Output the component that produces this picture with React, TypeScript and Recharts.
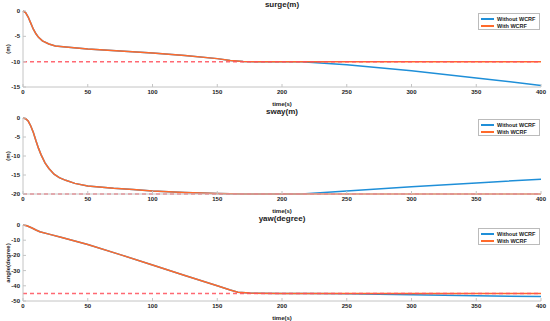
import { LineChart, Line, XAxis, YAxis } from "recharts";

// time axis ticks
const timeTicks = [0, 50, 100, 150, 200, 250, 300, 350, 400];

// surge (m)
const surgeT = [0, 2, 4, 6, 8, 10, 12, 15, 20, 25, 33, 50, 75, 100, 125, 150, 160, 170, 180, 215, 400];
const surgeWith = [0, -0.3, -1.2, -2.4, -3.6, -4.5, -5.2, -5.9, -6.5, -6.9, -7.1, -7.5, -7.9, -8.3, -8.8, -9.4, -9.75, -9.95, -10, -10, -10];
const surgeDriftT = [250, 300, 350, 400];
const surgeDrift = [-10.6, -11.8, -13.2, -14.7];
const surgeTarget = -10;
const surgeTicks = [0, -5, -10, -15];

// sway (m)
const swayT = [0, 2, 4, 6, 8, 10, 12, 14, 17, 20, 24, 28, 33, 40, 50, 70, 85, 100, 125, 150, 170, 215, 400];
const swayWith = [0, -0.2, -0.8, -2.1, -3.8, -6, -8, -9.7, -11.8, -13.3, -14.8, -15.7, -16.4, -17.2, -17.9, -18.5, -18.8, -19.2, -19.6, -19.9, -20, -20, -20];
const swayDriftT = [250, 300, 350, 400];
const swayDrift = [-19.2, -18.1, -17.1, -16.1];
const swayTarget = -20;
const swayTicks = [0, -5, -10, -15, -20];

// yaw (degree)
const yawT = [0, 3, 7, 10, 13, 20, 30, 50, 75, 100, 125, 150, 160, 166, 175, 200, 220, 400];
const yawWith = [0, -0.5, -2, -3.3, -4.4, -6, -8.2, -12.8, -19.5, -26.3, -33.2, -40, -42.8, -44.2, -44.8, -45, -45, -45];
const yawDriftT = [250, 300, 350, 400];
const yawDrift = [-45.3, -45.9, -46.5, -47.1];
const yawTarget = -45;
const yawTicks = [0, -10, -20, -30, -40, -50];

const BLUE = "#1f8fd8";
const ORANGE = "#ff6a2b";
const REF = "#ff4f5a";
const BOX = "#c4c4c4";
const FONT = "'Liberation Sans', Arial, sans-serif";

const BottomTick = ({ x, y, payload }: any) => (
  <g>
    <line x1={x} x2={x} y1={y} y2={y - 3} stroke={BOX} />
    <text x={x} y={y + 7} textAnchor="middle" fontSize={6} fontWeight="bold" fill="#222" fontFamily={FONT}>
      {payload.value}
    </text>
  </g>
);
const TopTick = ({ x, y }: any) => <line x1={x} x2={x} y1={y} y2={y + 3} stroke={BOX} />;
const LeftTick = ({ x, y, payload }: any) => (
  <g>
    <line x1={x} x2={x + 3} y1={y} y2={y} stroke={BOX} />
    <text x={x - 3} y={y + 2} textAnchor="end" fontSize={6} fontWeight="bold" fill="#222" fontFamily={FONT}>
      {payload.value}
    </text>
  </g>
);
const RightTick = ({ x, y }: any) => <line x1={x} x2={x - 3} y1={y} y2={y} stroke={BOX} />;

function Panel({ title, yLabel, t, withV, driftT, drift, target, ticks, legendTop }: any) {
  const withData = t.map((tt: number, i: number) => ({ t: tt, v: withV[i] }));
  const split = t.findIndex((tt: number) => tt >= 215);
  const withoutData = withData.slice(0, split + 1).concat(driftT.map((tt: number, i: number) => ({ t: tt, v: drift[i] })));
  const refData = [{ t: 0, v: target }, { t: 400, v: target }];
  const domain = [ticks[ticks.length - 1], 0];
  return (
    <div style={{ position: "relative", width: 550, height: 107 }}>
      <div style={{ position: "absolute", left: 23, width: 518, top: 0, textAlign: "center", fontSize: 8, fontWeight: "bold", fontFamily: FONT, color: "#222" }}>
        {title}
      </div>
      <LineChart width={550} height={107} data={withData} margin={{ top: 11, right: 9, bottom: 0, left: 0 }}>
        <XAxis dataKey="t" type="number" domain={[0, 400]} ticks={timeTicks} height={20} tickSize={0} tickMargin={0}
          tickLine={false} stroke={BOX} tick={<BottomTick />} interval={0}
          label={{ value: "time(s)", position: "insideBottom", offset: 1, fontSize: 6, fontWeight: "bold", fill: "#222", fontFamily: FONT }} />
        <XAxis xAxisId="top" orientation="top" dataKey="t" type="number" domain={[0, 400]} ticks={timeTicks} height={0}
          tickSize={0} tickMargin={0} tickLine={false} stroke={BOX} tick={<TopTick />} interval={0} />
        <YAxis type="number" domain={domain} ticks={ticks} width={23} tickSize={0} tickMargin={0} tickLine={false}
          stroke={BOX} tick={<LeftTick />} interval={0}
          label={{ value: yLabel, angle: -90, position: "center", dx: -4, fontSize: 6, fontWeight: "bold", fill: "#222", fontFamily: FONT }} />
        <YAxis yAxisId="right" orientation="right" type="number" domain={domain} ticks={ticks} width={0} tickSize={0}
          tickMargin={0} tickLine={false} stroke={BOX} tick={<RightTick />} interval={0} />
        <Line data={withoutData} dataKey="v" stroke={BLUE} strokeWidth={1.5} dot={false} isAnimationActive={false} />
        <Line data={withData} dataKey="v" stroke={ORANGE} strokeWidth={1.5} dot={false} isAnimationActive={false} />
        <Line data={refData} dataKey="v" stroke={REF} strokeWidth={1.5} strokeOpacity={0.85} strokeDasharray="4 3" dot={false} isAnimationActive={false} />
      </LineChart>
      <div style={{ position: "absolute", left: 478, top: legendTop, width: 62, height: 17, border: "1px solid #bbb", background: "#fff", fontFamily: FONT, fontSize: 5.5, fontWeight: "bold", color: "#222", boxSizing: "border-box" }}>
        {[["Without WCRF", BLUE], ["With WCRF", ORANGE]].map(([name, c], i) => (
          <div key={name} style={{ position: "absolute", left: 2, top: 2 + i * 7, height: 6, display: "flex", alignItems: "center", whiteSpace: "nowrap" }}>
            <span style={{ display: "inline-block", width: 13, height: 1.5, background: c, marginRight: 3 }} />
            {name}
          </div>
        ))}
      </div>
    </div>
  );
}

export default function App() {
  return (
    <div style={{ position: "absolute", left: 0, top: 0, width: 550, height: 321, background: "#fff" }}>
      <Panel title="surge(m)" yLabel="(m)" t={surgeT} withV={surgeWith} driftT={surgeDriftT} drift={surgeDrift}
        target={surgeTarget} ticks={surgeTicks} legendTop={13} />
      <Panel title="sway(m)" yLabel="(m)" t={swayT} withV={swayWith} driftT={swayDriftT} drift={swayDrift}
        target={swayTarget} ticks={swayTicks} legendTop={12} />
      <Panel title="yaw(degree)" yLabel="angle(degree)" t={yawT} withV={yawWith} driftT={yawDriftT} drift={yawDrift}
        target={yawTarget} ticks={yawTicks} legendTop={14} />
    </div>
  );
}
